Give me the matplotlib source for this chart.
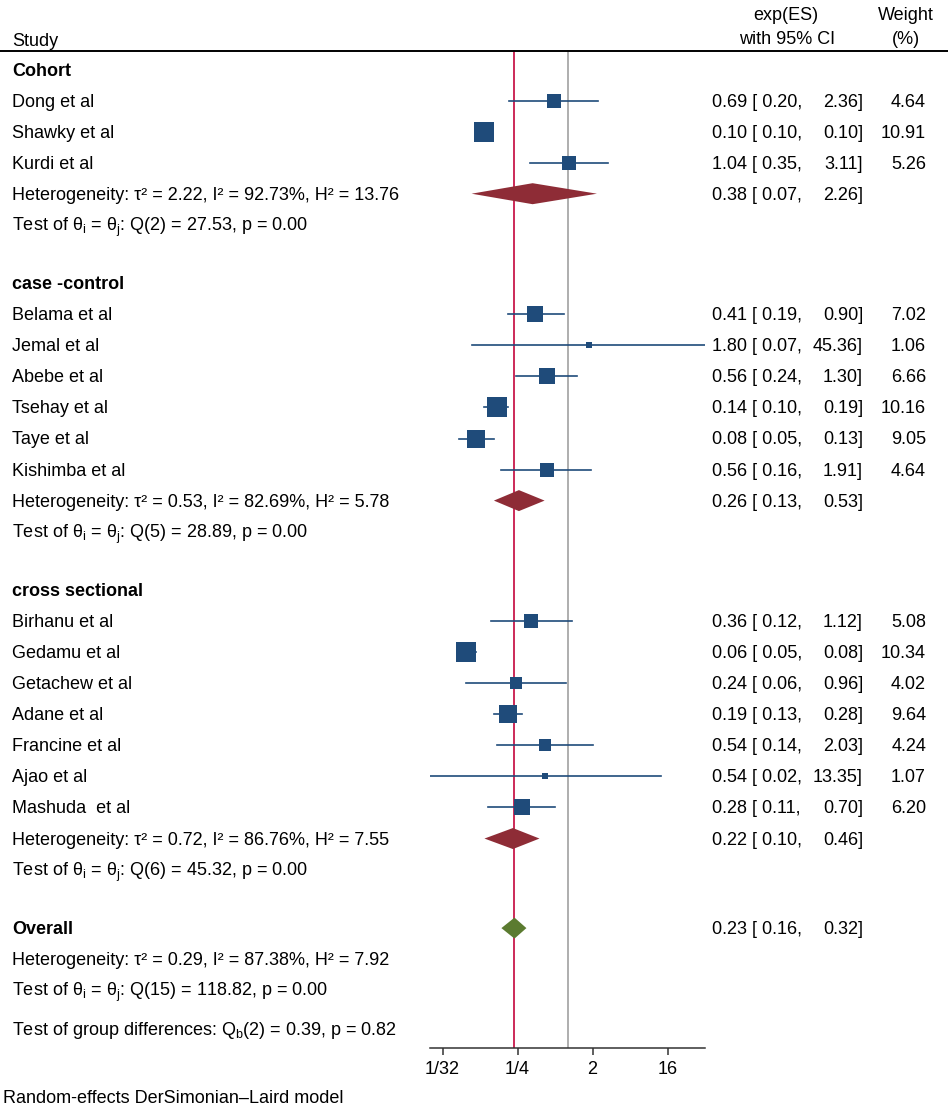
import matplotlib
matplotlib.use('Agg')
import matplotlib.pyplot as plt
import numpy as np

# forest plot, random-effects subgroup meta-analysis
groups = ['Cohort', 'case -control', 'cross sectional']
study_names = [
    ['Dong et al', 'Shawky et al', 'Kurdi et al'],
    ['Belama et al', 'Jemal et al', 'Abebe et al', 'Tsehay et al', 'Taye et al', 'Kishimba et al'],
    ['Birhanu et al', 'Gedamu et al', 'Getachew et al', 'Adane et al', 'Francine et al',
     'Ajao et al', 'Mashuda  et al'],
]
es = [
    [0.69, 0.10, 1.04],
    [0.41, 1.80, 0.56, 0.14, 0.08, 0.56],
    [0.36, 0.06, 0.24, 0.19, 0.54, 0.54, 0.28],
]
ci_low = [
    [0.20, 0.10, 0.35],
    [0.19, 0.07, 0.24, 0.10, 0.05, 0.16],
    [0.12, 0.05, 0.06, 0.13, 0.14, 0.02, 0.11],
]
ci_high = [
    [2.36, 0.10, 3.11],
    [0.90, 45.36, 1.30, 0.19, 0.13, 1.91],
    [1.12, 0.08, 0.96, 0.28, 2.03, 13.35, 0.70],
]
weights = [
    [4.64, 10.91, 5.26],
    [7.02, 1.06, 6.66, 10.16, 9.05, 4.64],
    [5.08, 10.34, 4.02, 9.64, 4.24, 1.07, 6.20],
]
pooled_es = [0.38, 0.26, 0.22]
pooled_low = [0.07, 0.13, 0.10]
pooled_high = [2.26, 0.53, 0.46]
tau2 = [2.22, 0.53, 0.72]
i2 = [92.73, 82.69, 86.76]
h2 = [13.76, 5.78, 7.55]
q_df = [2, 5, 6]
q_val = [27.53, 28.89, 45.32]
q_p = [0.00, 0.00, 0.00]

overall_es, overall_low, overall_high = 0.23, 0.16, 0.32
overall_tau2, overall_i2, overall_h2 = 0.29, 87.38, 7.92
overall_q_df, overall_q, overall_p = 15, 118.82, 0.00
qb_df, qb_val, qb_p = 2, 0.39, 0.82

xticks = [1 / 32, 1 / 4, 2, 16]
xtick_labels = ['1/32', '1/4', '2', '16']

plt.rcParams['font.family'] = ['Liberation Sans', 'DejaVu Sans']
plt.rcParams['mathtext.fontset'] = 'custom'
plt.rcParams['mathtext.rm'] = 'Liberation Sans'
plt.rcParams['mathtext.it'] = 'Liberation Sans'
plt.rcParams['mathtext.bf'] = 'Liberation Sans:bold'
plt.rcParams['mathtext.default'] = 'regular'

W, H = 948, 1106
FS = 13
navy = '#1F4B7A'
maroon = '#8E2C36'
green = '#5B7B30'
BOFF = 6  # px from visual centre of a row to text baseline


def fx(x):
    return x / W


def fy(y):
    return 1 - y / H


def put(x, y, s, **kw):
    fig.text(fx(x), fy(y + BOFF), s, fontsize=FS, va='baseline', **kw)


def het_str(t, i, h):
    return f'Heterogeneity: \u03c4\u00b2 = {t:.2f}, I\u00b2 = {i:.2f}%, H\u00b2 = {h:.2f}'


fig = plt.figure(figsize=(W / 100, H / 100), dpi=100)
ax = fig.add_axes([fx(430), fy(1048), (705 - 430) / W, (1048 - 50) / H])
ax.set_xscale('log', base=2)
ax.set_xlim(2 ** -5.5, 2 ** 5.5)
ax.set_ylim(1048, 50)
for s in ['top', 'left', 'right']:
    ax.spines[s].set_visible(False)
ax.spines['bottom'].set_color('#333333')
ax.spines['bottom'].set_linewidth(1.1)
ax.set_yticks([])
ax.set_xticks(xticks)
ax.set_xticklabels(xtick_labels, fontsize=FS)
ax.minorticks_off()
ax.tick_params(axis='x', length=5, width=1.1, color='#333333', pad=4)

ax.axvline(1, color='#A8A8A8', lw=1.3, zorder=1)
ax.axvline(overall_es, color='#C8194B', lw=1.3, zorder=1)

# header
put(12, 40, 'Study')
put(786, 14, 'exp(ES)', ha='center')
put(787, 38, 'with 95% CI', ha='center')
put(906, 14, 'Weight', ha='center')
put(906, 38, '(%)', ha='center')
fig.add_artist(plt.Line2D([0, 1], [fy(50.5), fy(50.5)], color='black', lw=1.4))

step = 31.05
gap = 58.5


def ci_text(y, e, lo, hi, w=None):
    put(712, y, f'{e:.2f} [ {lo:.2f},')
    put(863, y, f'{hi:.2f}]', ha='right')
    if w is not None:
        put(926, y, f'{w:.2f}', ha='right')


def diamond(y, e, lo, hi, color):
    hh = 10.5
    ax.fill([lo, e, hi, e], [y, y - hh, y, y + hh], color=color, lw=0, zorder=3)


y = 69.5
for g in range(len(groups)):
    put(12, y, groups[g], fontweight='bold')
    y += step
    for k in range(len(study_names[g])):
        put(12, y, study_names[g][k])
        ax.plot([ci_low[g][k], ci_high[g][k]], [y, y], color=navy, lw=1.2, zorder=2)
        side = 6.1 * np.sqrt(weights[g][k])
        ax.plot(es[g][k], y, marker='s', ms=side * 0.72, color=navy, mew=0, zorder=3)
        ci_text(y, es[g][k], ci_low[g][k], ci_high[g][k], weights[g][k])
        y += step
    put(12, y, het_str(tau2[g], i2[g], h2[g]))
    diamond(y, pooled_es[g], pooled_low[g], pooled_high[g], maroon)
    ci_text(y, pooled_es[g], pooled_low[g], pooled_high[g])
    y += step
    put(12, y, f'Test of $\\theta_i$ = $\\theta_j$: Q({q_df[g]}) = {q_val[g]:.2f}, p = {q_p[g]:.2f}')
    y += gap

put(12, y, 'Overall', fontweight='bold')
diamond(y, overall_es, overall_low, overall_high, green)
ci_text(y, overall_es, overall_low, overall_high)
y += step
put(12, y, het_str(overall_tau2, overall_i2, overall_h2))
y += step
put(12, y, f'Test of $\\theta_i$ = $\\theta_j$: Q({overall_q_df}) = {overall_q:.2f}, p = {overall_p:.2f}')
y += 39
put(12, y, f'Test of group differences: $Q_b$({qb_df}) = {qb_val:.2f}, p = {qb_p:.2f}')

put(3, 1097, 'Random-effects DerSimonian\u2013Laird model')

fig.savefig('out.png', dpi=100, facecolor='white')
